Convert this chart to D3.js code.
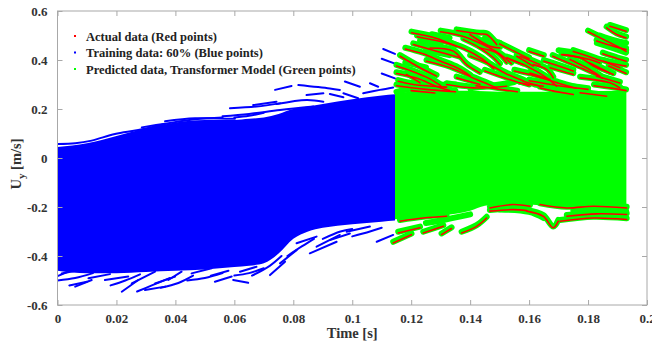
<!DOCTYPE html>
<html>
<head>
<meta charset="utf-8">
<script src="https://cdn.jsdelivr.net/npm/d3@7/dist/d3.min.js"></script>
<style>
  body { margin: 0; background: #fff; }
  svg { display: block; }
  text { font-family: "Liberation Serif", "Times New Roman", serif; font-weight: bold; }
</style>
</head>
<body>
<svg id="chart" width="652" height="346"></svg>
<script>
// ---------------- data ----------------
const xTicks = [0, 0.02, 0.04, 0.06, 0.08, 0.1, 0.12, 0.14, 0.16, 0.18, 0.2];
const xTickLabels = ["0", "0.02", "0.04", "0.06", "0.08", "0.1", "0.12", "0.14", "0.16", "0.18", "0.2"];
const yTicks = [-0.6, -0.4, -0.2, 0, 0.2, 0.4, 0.6];
const yTickLabels = ["-0.6", "-0.4", "-0.2", "0", "0.2", "0.4", "0.6"];

const legendLabels = ["Actual data (Red points)", "Training data: 60% (Blue points)", "Predicted data, Transformer Model (Green points)"];
const legendColors = ["#ff0000", "#0000ff", "#00ff00"];

// Training window (60%): dense core of the blue point cloud
const trainTime  = [0, 0.01, 0.02, 0.03, 0.04, 0.05, 0.06, 0.065, 0.07, 0.075, 0.08, 0.085, 0.09, 0.10, 0.11, 0.1145];
const trainUpper = [0.045, 0.06, 0.09, 0.12, 0.145, 0.155, 0.155, 0.16, 0.165, 0.18, 0.20, 0.21, 0.22, 0.24, 0.255, 0.26];
const trainLower = [-0.46, -0.47, -0.47, -0.465, -0.46, -0.455, -0.445, -0.44, -0.43, -0.39, -0.33, -0.30, -0.285, -0.27, -0.26, -0.255];

// Test window: dense core of the predicted (green) point cloud
const testTime  = [0.1145, 0.12, 0.13, 0.14, 0.145, 0.15, 0.16, 0.17, 0.18, 0.19, 0.193];
const predUpper = [0.265, 0.27, 0.275, 0.275, 0.272, 0.27, 0.27, 0.27, 0.272, 0.275, 0.275];
const predLower = [-0.25, -0.245, -0.235, -0.215, -0.195, -0.19, -0.19, -0.2, -0.2, -0.205, -0.205];

// Individual training trajectories escaping the core [time, Uy]
const trainStreaksTop = [
  [[0.0003,0.057],[0.0060,0.060],[0.0116,0.071],[0.0195,0.098],[0.0274,0.114],[0.0365,0.139]],
  [[0.0365,0.150],[0.0467,0.162],[0.0602,0.160]],
  [[0.0286,0.125],[0.0365,0.140],[0.0467,0.158],[0.0560,0.165]],
  [[0.0387,0.121],[0.0500,0.131],[0.0602,0.135]],
  [[0.0600,0.165],[0.0650,0.172],[0.0700,0.185]],
  [[0.0738,0.278],[0.0794,0.294]],
  [[0.0817,0.298],[0.0924,0.284],[0.0958,0.278]],
  [[0.0975,0.312],[0.1026,0.291]],
  [[0.1060,0.305],[0.1088,0.291]],
  [[0.0664,0.216],[0.0743,0.230]],
  [[0.0743,0.220],[0.0845,0.237],[0.0902,0.230]],
  [[0.0845,0.257],[0.0902,0.264]],
  [[0.0924,0.261],[0.0970,0.248]],
  [[0.0970,0.264],[0.1020,0.244]],
  [[0.1037,0.264],[0.1094,0.278],[0.1139,0.288]],
  [[0.0585,0.203],[0.0675,0.210],[0.0755,0.223]],
  [[0.0560,0.170],[0.0650,0.180],[0.0755,0.196],[0.0868,0.210]],
  [[0.1105,0.445],[0.1145,0.425]],
  [[0.1100,0.405],[0.1145,0.385]],
  [[0.1100,0.345],[0.1145,0.325]]
];
const trainStreaksBottom = [
  [[0.0060,-0.525],[0.0116,-0.498]],
  [[0.0105,-0.491],[0.0178,-0.474]],
  [[0.0014,-0.471],[0.0082,-0.455]],
  [[0.0218,-0.546],[0.0274,-0.498]],
  [[0.0252,-0.512],[0.0331,-0.464]],
  [[0.0297,-0.539],[0.0365,-0.525]],
  [[0.0331,-0.512],[0.0399,-0.484]],
  [[0.0376,-0.498],[0.0421,-0.464]],
  [[0.0455,-0.471],[0.0523,-0.450]],
  [[0.0534,-0.505],[0.0591,-0.484]],
  [[0.0557,-0.444],[0.0602,-0.403]],
  [[0.0116,-0.457],[0.0218,-0.444]],
  [[0.0000,-0.482],[0.0037,-0.464]],
  [[0.0161,-0.498],[0.0240,-0.484]],
  [[0.0596,-0.498],[0.0647,-0.509]],
  [[0.0721,-0.478],[0.0772,-0.423]],
  [[0.0755,-0.430],[0.0811,-0.376]],
  [[0.0856,-0.389],[0.0947,-0.342]],
  [[0.0879,-0.362],[0.0958,-0.314]],
  [[0.0924,-0.335],[0.0992,-0.308]],
  [[0.1083,-0.342],[0.1139,-0.314]],
  [[0.0981,-0.301],[0.1060,-0.280]],
  [[0.0619,-0.464],[0.0675,-0.444]],
  [[0.0811,-0.348],[0.0879,-0.321]],
  [[0.0000,-0.500],[0.0060,-0.490],[0.0120,-0.470]],
  [[0.0040,-0.520],[0.0100,-0.505]],
  [[0.0180,-0.520],[0.0230,-0.500],[0.0280,-0.475]],
  [[0.0270,-0.545],[0.0320,-0.520],[0.0380,-0.490]],
  [[0.0350,-0.530],[0.0410,-0.510],[0.0460,-0.480]],
  [[0.0440,-0.500],[0.0500,-0.490],[0.0560,-0.470]],
  [[0.0600,-0.480],[0.0650,-0.470],[0.0700,-0.450]],
  [[0.0520,-0.480],[0.0580,-0.460]],
  [[0.0660,-0.480],[0.0720,-0.440],[0.0760,-0.400]],
  [[0.0780,-0.400],[0.0830,-0.360],[0.0870,-0.330]],
  [[0.0900,-0.330],[0.0960,-0.300],[0.1000,-0.290]],
  [[0.1000,-0.320],[0.1060,-0.300],[0.1100,-0.285]]
];

// Actual (red) trajectories in the test window [time, Uy]
const actualStreaksTop = [
  [[0.1201,0.516],[0.1281,0.495],[0.1354,0.461]],
  [[0.1354,0.525],[0.1433,0.511],[0.1456,0.509],[0.1490,0.468]],
  [[0.1399,0.509],[0.1467,0.461],[0.1501,0.454]],
  [[0.1207,0.468],[0.1286,0.441],[0.1365,0.414]],
  [[0.1162,0.420],[0.1230,0.373],[0.1286,0.339]],
  [[0.1264,0.454],[0.1343,0.441],[0.1388,0.386],[0.1433,0.352]],
  [[0.1252,0.400],[0.1332,0.373],[0.1422,0.325],[0.1490,0.291]],
  [[0.1184,0.346],[0.1230,0.312]],
  [[0.1156,0.318],[0.1207,0.305],[0.1320,0.294]],
  [[0.1320,0.305],[0.1411,0.291],[0.1524,0.298]],
  [[0.1433,0.454],[0.1490,0.434],[0.1524,0.393]],
  [[0.1524,0.414],[0.1592,0.380],[0.1660,0.332],[0.1693,0.298]],
  [[0.1569,0.420],[0.1637,0.386]],
  [[0.1614,0.386],[0.1660,0.366],[0.1682,0.332]],
  [[0.1710,0.427],[0.1773,0.414],[0.1818,0.380],[0.1886,0.346]],
  [[0.1739,0.407],[0.1795,0.373],[0.1840,0.339]],
  [[0.1773,0.332],[0.1874,0.312],[0.1908,0.291]],
  [[0.1863,0.536],[0.1897,0.509],[0.1929,0.495]],
  [[0.1829,0.482],[0.1886,0.461],[0.1929,0.448]],
  [[0.1852,0.400],[0.1908,0.373]],
  [[0.1874,0.543],[0.1929,0.522]],
  [[0.1377,0.488],[0.1433,0.454],[0.1479,0.414],[0.1501,0.386]],
  [[0.1354,0.332],[0.1433,0.305]],
  [[0.1580,0.318],[0.1637,0.298]],
  [[0.1637,0.291],[0.1682,0.278]],
  [[0.1682,0.278],[0.1750,0.264]],
  [[0.1773,0.271],[0.1863,0.257]],
  [[0.1558,0.420],[0.1614,0.380]],
  [[0.1671,0.373],[0.1750,0.346]],
  [[0.1716,0.427],[0.1806,0.407],[0.1840,0.393]],
  [[0.1806,0.393],[0.1874,0.352]],
  [[0.1829,0.339],[0.1908,0.311]],
  [[0.1569,0.311],[0.1648,0.298]],
  [[0.1603,0.352],[0.1671,0.325]],
  [[0.1535,0.407],[0.1580,0.386]],
  [[0.1150,0.380],[0.1200,0.360],[0.1260,0.330],[0.1300,0.300]],
  [[0.1150,0.350],[0.1220,0.330],[0.1280,0.300],[0.1330,0.280]],
  [[0.1150,0.300],[0.1250,0.285],[0.1350,0.275]],
  [[0.1180,0.450],[0.1240,0.430],[0.1300,0.400],[0.1360,0.370],[0.1400,0.340]],
  [[0.1220,0.500],[0.1300,0.480],[0.1380,0.450],[0.1440,0.410],[0.1480,0.370]],
  [[0.1300,0.520],[0.1380,0.500],[0.1440,0.470],[0.1500,0.430],[0.1540,0.390]],
  [[0.1400,0.420],[0.1460,0.390],[0.1520,0.350],[0.1580,0.320]],
  [[0.1450,0.360],[0.1520,0.330],[0.1600,0.300]],
  [[0.1500,0.470],[0.1550,0.440],[0.1600,0.410]],
  [[0.1550,0.360],[0.1620,0.340],[0.1700,0.310],[0.1760,0.290]],
  [[0.1600,0.320],[0.1700,0.300],[0.1800,0.285]],
  [[0.1680,0.420],[0.1720,0.400],[0.1780,0.370],[0.1850,0.330]],
  [[0.1650,0.400],[0.1700,0.380],[0.1750,0.360]],
  [[0.1750,0.440],[0.1800,0.420],[0.1850,0.400],[0.1929,0.380]],
  [[0.1800,0.520],[0.1850,0.490],[0.1900,0.460],[0.1929,0.440]],
  [[0.1850,0.430],[0.1900,0.410],[0.1929,0.400]],
  [[0.1870,0.380],[0.1929,0.350]],
  [[0.1820,0.300],[0.1880,0.290],[0.1929,0.280]],
  [[0.1420,0.300],[0.1500,0.285],[0.1560,0.275]],
  [[0.1200,0.280],[0.1280,0.270]],
  [[0.1600,0.440],[0.1650,0.420]]
];
const actualStreaksBottom = [
  [[0.1139,-0.342],[0.1201,-0.308]],
  [[0.1156,-0.301],[0.1230,-0.280]],
  [[0.1241,-0.301],[0.1309,-0.274]],
  [[0.1303,-0.308],[0.1337,-0.283]],
  [[0.1371,-0.301],[0.1422,-0.274],[0.1456,-0.240]],
  [[0.1467,-0.212],[0.1546,-0.206],[0.1592,-0.210]],
  [[0.1592,-0.212],[0.1648,-0.233],[0.1682,-0.280],[0.1699,-0.253]],
  [[0.1705,-0.253],[0.1818,-0.240],[0.1931,-0.246]],
  [[0.1728,-0.233],[0.1829,-0.223],[0.1931,-0.226]],
  [[0.1467,-0.199],[0.1546,-0.185],[0.1603,-0.192]],
  [[0.1162,-0.253],[0.1241,-0.240],[0.1320,-0.233]],
  [[0.1637,-0.185],[0.1727,-0.199],[0.1818,-0.192],[0.1931,-0.199]]
];

// Predicted-only (green) trajectories without a matching red track
const predOnlyStreaks = [
  [[0.1840,0.500],[0.1890,0.480],[0.1929,0.470]],
  [[0.1830,0.470],[0.1880,0.450],[0.1929,0.430]],
  [[0.1230,0.480],[0.1300,0.460]],
  [[0.1250,0.440],[0.1330,0.420]],
  [[0.1700,0.440],[0.1760,0.430]],
  [[0.1180,0.390],[0.1250,0.370]],
  [[0.1270,0.505],[0.1330,0.490]],
  [[0.1450,0.490],[0.1500,0.470]],
  [[0.1620,0.300],[0.1700,0.285],[0.1800,0.275]],
  [[0.1150,0.270],[0.1250,0.295],[0.1350,0.300]],
  [[0.1400,0.285],[0.1500,0.300],[0.1550,0.310]],
  [[0.1500,-0.210],[0.1600,-0.220],[0.1650,-0.245]],
  [[0.1750,-0.215],[0.1850,-0.210],[0.1929,-0.215]],
  [[0.1250,-0.265],[0.1300,-0.255],[0.1400,-0.230]]
];

// ---------------- layout ----------------
const svg = d3.select("#chart");
const plot = { left: 57.5, top: 11, right: 647, bottom: 305 };

const x = d3.scaleLinear().domain([0, 0.2]).range([plot.left, plot.right]);
const y = d3.scaleLinear().domain([-0.6, 0.6]).range([plot.bottom, plot.top]);

svg.append("defs").append("clipPath").attr("id", "plotClip")
  .append("rect")
  .attr("x", plot.left).attr("y", plot.top)
  .attr("width", plot.right - plot.left).attr("height", plot.bottom - plot.top);

const g = svg.append("g").attr("clip-path", "url(#plotClip)");

const band = (times, lo, hi) => d3.area()
  .x((d, i) => x(times[i]))
  .y0((d, i) => y(lo[i]))
  .y1((d, i) => y(hi[i]))
  .curve(d3.curveMonotoneX)(times);

const streak = d3.line()
  .x(d => x(d[0]))
  .y(d => y(d[1]))
  .curve(d3.curveCatmullRom);

// training cloud
g.append("path").attr("d", band(trainTime, trainLower, trainUpper)).attr("fill", "#0000ff");
g.selectAll(".trainStreak")
  .data(trainStreaksTop.concat(trainStreaksBottom))
  .join("path")
  .attr("class", "trainStreak")
  .attr("d", streak)
  .attr("fill", "none").attr("stroke", "#0000ff")
  .attr("stroke-width", 2).attr("stroke-linecap", "round");

// predicted cloud
g.append("path").attr("d", band(testTime, predLower, predUpper)).attr("fill", "#00ff00");
g.selectAll(".predHalo")
  .data(actualStreaksTop.concat(actualStreaksBottom, predOnlyStreaks))
  .join("path")
  .attr("class", "predHalo")
  .attr("d", streak)
  .attr("fill", "none").attr("stroke", "#00ff00")
  .attr("stroke-width", 6).attr("stroke-linecap", "round");

// actual trajectories
g.selectAll(".actual")
  .data(actualStreaksTop.concat(actualStreaksBottom))
  .join("path")
  .attr("class", "actual")
  .attr("d", streak)
  .attr("transform", "translate(0,1.2)")
  .attr("fill", "none").attr("stroke", "#ff0000")
  .attr("stroke-width", 1.6).attr("stroke-linecap", "round");

// ---------------- axes ----------------
const axisColor = "#a8a8a8";
const labelColor = "#333";

function styleAxis(sel) {
  sel.select(".domain").remove();
  sel.selectAll(".tick line").attr("stroke", axisColor);
  sel.selectAll(".tick text").attr("fill", labelColor).attr("font-size", 13)
    .attr("font-family", "'Liberation Serif', serif").attr("font-weight", "bold");
}

svg.append("g").attr("transform", `translate(0,${plot.bottom})`)
  .call(d3.axisBottom(x).tickValues(xTicks).tickFormat((d, i) => xTickLabels[i]).tickSizeInner(-5).tickSizeOuter(0).tickPadding(9))
  .call(styleAxis);
svg.append("g").attr("transform", `translate(0,${plot.top})`)
  .call(d3.axisTop(x).tickValues(xTicks).tickFormat("").tickSizeInner(-5).tickSizeOuter(0))
  .call(styleAxis);
svg.append("g").attr("transform", `translate(${plot.left},0)`)
  .call(d3.axisLeft(y).tickValues(yTicks).tickFormat((d, i) => yTickLabels[i]).tickSizeInner(-5).tickSizeOuter(0).tickPadding(10))
  .call(styleAxis);
svg.append("g").attr("transform", `translate(${plot.right},0)`)
  .call(d3.axisRight(y).tickValues(yTicks).tickFormat("").tickSizeInner(-5).tickSizeOuter(0))
  .call(styleAxis);

svg.append("rect")
  .attr("x", plot.left).attr("y", plot.top)
  .attr("width", plot.right - plot.left).attr("height", plot.bottom - plot.top)
  .attr("fill", "none").attr("stroke", axisColor).attr("stroke-width", 1);

// axis titles
svg.append("text")
  .attr("x", (plot.left + plot.right) / 2).attr("y", 338)
  .attr("text-anchor", "middle").attr("font-size", 14.5).attr("fill", labelColor)
  .text("Time [s]");

const yTitle = svg.append("text")
  .attr("transform", `translate(21,${(plot.top + plot.bottom) / 2 + 6}) rotate(-90)`)
  .attr("text-anchor", "middle").attr("font-size", 14.5).attr("fill", labelColor);
yTitle.append("tspan").text("U");
yTitle.append("tspan").attr("dy", 4).attr("font-size", 11).text("y");
yTitle.append("tspan").attr("dy", -4).text(" [m/s]");

// ---------------- legend ----------------
const legend = svg.append("g");
legendLabels.forEach((label, i) => {
  const ly = 36 + i * 16.5;
  legend.append("rect")
    .attr("x", 74).attr("y", ly - 1).attr("width", 2).attr("height", 2)
    .attr("fill", legendColors[i]);
  legend.append("text")
    .attr("x", 86).attr("y", ly + 4.5)
    .attr("font-size", 12.5).attr("fill", "#222")
    .text(label);
});
</script>
</body>
</html>
